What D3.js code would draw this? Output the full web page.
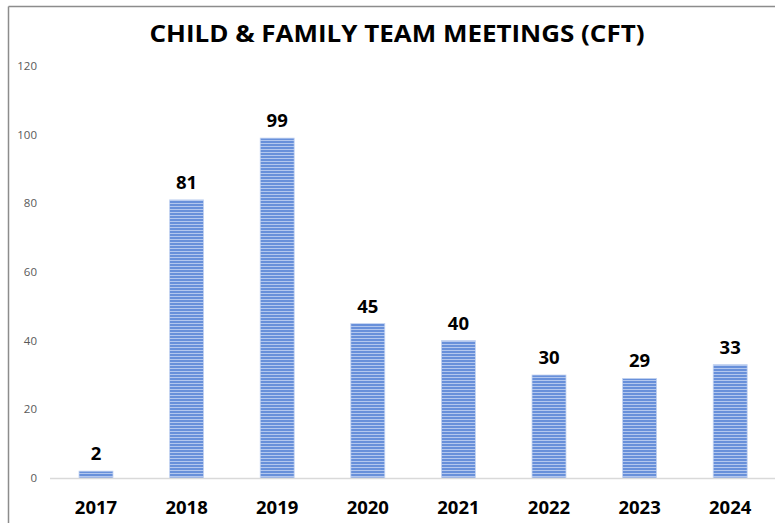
<!DOCTYPE html>
<html><head><meta charset="utf-8">
<script src="https://cdn.jsdelivr.net/npm/d3@7/dist/d3.min.js"></script>
<style>body{margin:0;background:#fff;} svg{display:block;}</style>
</head><body>
<script>
const years = ["2017","2018","2019","2020","2021","2022","2023","2024"];
const values = [2,81,99,45,40,30,29,33];
const yTicks = [0,20,40,60,80,100,120];
const title = "CHILD & FAMILY TEAM MEETINGS (CFT)";

const W = 775, H = 523;
const svg = d3.select("body").append("svg").attr("width", W).attr("height", H);

const defs = svg.append("defs");
const pat = defs.append("pattern").attr("id","stripes").attr("patternUnits","userSpaceOnUse")
  .attr("width", 8).attr("height", 3);
pat.append("rect").attr("width",8).attr("height",3).attr("fill","#b3c7ee");
pat.append("rect").attr("width",8).attr("height",2).attr("fill","#6890da");

// border
svg.append("line").attr("x1",8.5).attr("x2",W).attr("y1",6.5).attr("y2",6.5).attr("stroke","#8c8c8c").attr("stroke-width",1.5);
svg.append("line").attr("x1",8.5).attr("x2",8.5).attr("y1",6.5).attr("y2",H).attr("stroke","#8c8c8c").attr("stroke-width",1.5);

const x = d3.scaleBand().domain(years).range([50.7, 775.5]).paddingInner(0.625).paddingOuter(0.3125);
const y = d3.scaleLinear().domain([0,120]).range([478, 66]);

svg.append("text").attr("x", 397).attr("y", 42).attr("text-anchor","middle")
  .attr("font-family","Open Sans, sans-serif").attr("font-weight","bold").attr("font-size",24)
  .attr("textLength",495).attr("lengthAdjust","spacingAndGlyphs").attr("fill","#000").text(title);

// y tick labels
svg.append("g").selectAll("text").data(yTicks).join("text")
  .attr("x", 37).attr("y", d => y(d) + 4).attr("text-anchor","end")
  .attr("font-family","Open Sans, sans-serif").attr("font-size",11.5).attr("fill","#595959")
  .text(d => d);

// bars
svg.append("g").selectAll("rect").data(years).join("rect")
  .attr("x", d => x(d)).attr("width", x.bandwidth())
  .attr("y", (d,i) => y(values[i])).attr("height", (d,i) => y(0) - y(values[i]))
  .attr("fill","url(#stripes)").attr("stroke","#c3d3f1").attr("stroke-width",0.8);

// baseline
svg.append("line").attr("x1",50).attr("x2",W).attr("y1",478.5).attr("y2",478.5).attr("stroke","#d9d9d9").attr("stroke-width",1.5);

// value labels
svg.append("g").selectAll("text").data(years).join("text")
  .attr("x", d => x(d) + x.bandwidth()/2).attr("y", (d,i) => y(values[i]) - 11)
  .attr("text-anchor","middle").attr("font-family","Open Sans, sans-serif").attr("font-weight","bold")
  .attr("font-size",18.5).attr("fill","#000").text((d,i) => values[i]);

// x labels
svg.append("g").selectAll("text").data(years).join("text")
  .attr("x", d => x(d) + x.bandwidth()/2).attr("y", 514)
  .attr("text-anchor","middle").attr("font-family","Open Sans, sans-serif").attr("font-weight","bold")
  .attr("font-size",18.5).attr("fill","#000").text(d => d);
</script>
</body></html>
